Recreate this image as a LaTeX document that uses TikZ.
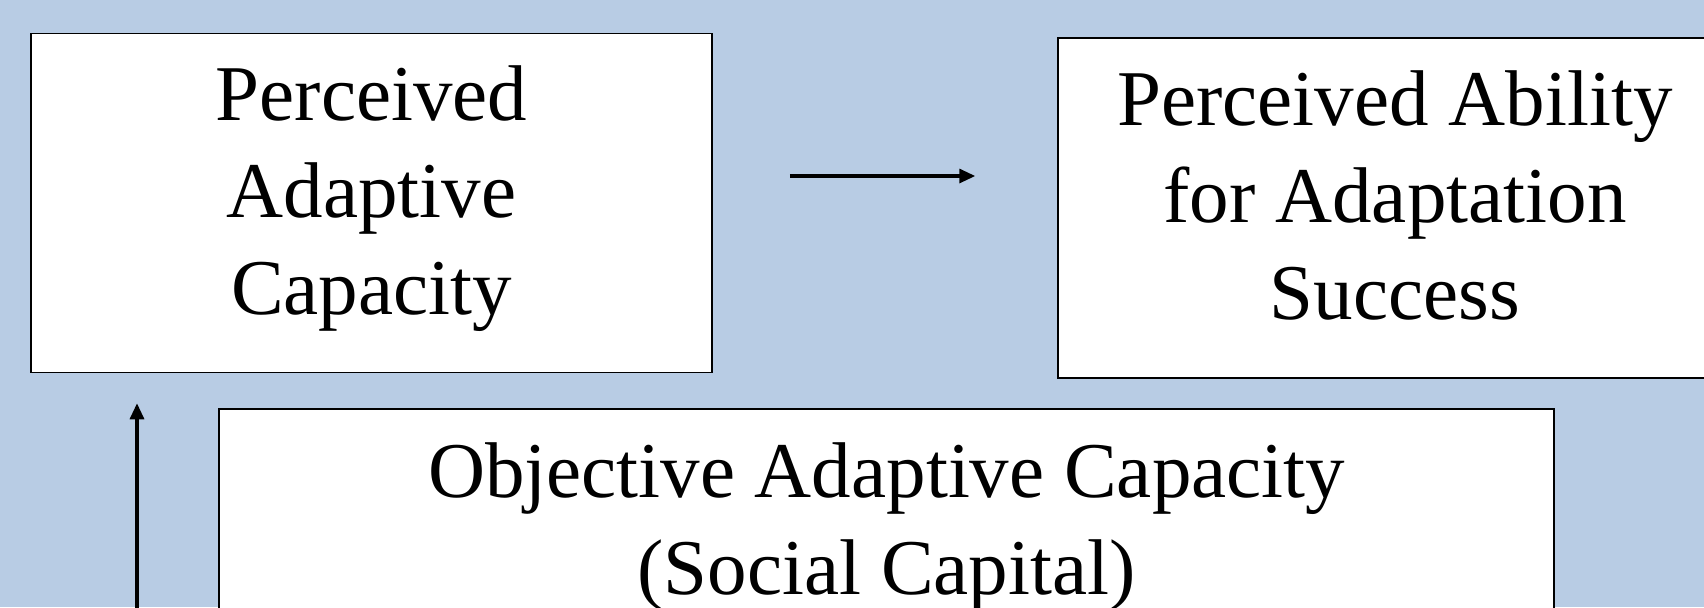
\documentclass[tikz,border=0pt]{standalone}
\usepackage{fontspec}
\setmainfont{Liberation Serif}
\usetikzlibrary{arrows.meta,positioning,calc}
\definecolor{bgblue}{HTML}{B8CCE4}
\newcommand{\lowpad}[1]{\rule[-#1]{0pt}{0pt}}
\tikzset{
  factor/.style={draw=black, line width=0.75pt, fill=white, align=center,
    font=\fontsize{39.5}{48.5}\selectfont, inner sep=0pt},
  link/.style={line width=1.6pt, -{Triangle[length=8pt,width=7pt]}}
}
\begin{document}
\begin{tikzpicture}[x=0.5pt,y=-0.5pt]
  \useasboundingbox (0,0) rectangle (1704,607);
  \fill[bgblue] (0,0) rectangle (1704,607);
  \clip (0,0) rectangle (1704,607);
  %
  \node[factor, minimum width=340.5pt, minimum height=169.5pt] (pac) at (371.5,203) {Perceived\\Adaptive\\Capacity\lowpad{12.5pt}};
  \node[factor, minimum width=337pt, minimum height=170pt] (pas) at (1395,208) {Perceived Ability\\for Adaptation\\Success\lowpad{13pt}};
  \node[factor, minimum width=667.5pt, minimum height=118pt] (oac) at (886.5,527) {Objective Adaptive Capacity\\(Social Capital)};
  %
  \coordinate (h1) at ($(pac.east)+(77,-27)$);
  \coordinate (h2) at ($(pas.west)+(-82,-32)$);
  \coordinate (v1) at (137,640);
  \coordinate (v2) at ($(pac.south -| v1)+(0,30)$);
  \draw[link] (h1) -- (h2);
  \draw[link] (v1) -- (v2);
\end{tikzpicture}
\end{document}
